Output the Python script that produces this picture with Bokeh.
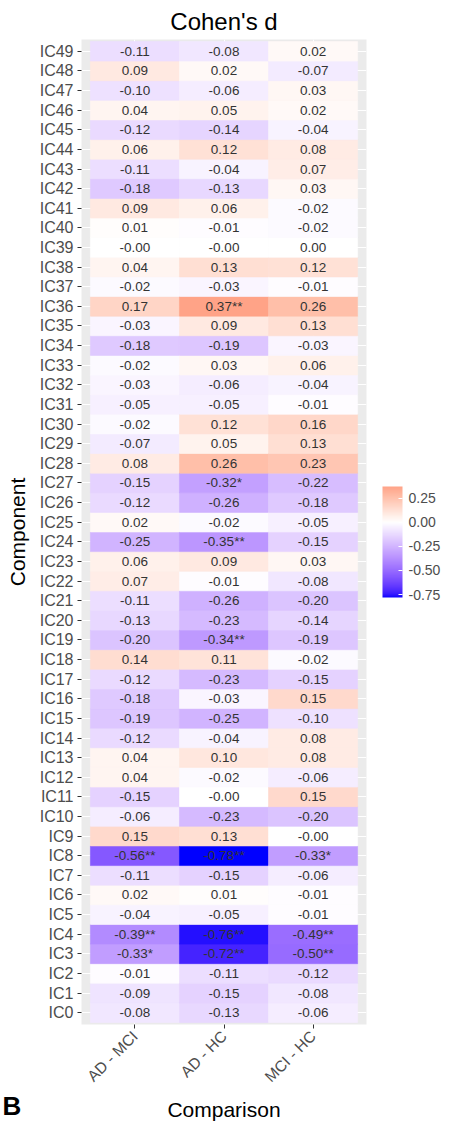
import math
import numpy as np
from bokeh.plotting import figure
from bokeh.models import (ColumnDataSource, LinearColorMapper, ColorBar, FixedTicker,
                          Range1d)
from bokeh.core.properties import value
from bokeh.embed import file_html
from bokeh.resources import INLINE

# ---------------- data (IC0 ... IC49) ----------------
comparisons = ["AD - MCI", "AD - HC", "MCI - HC"]
components = ["IC%d" % i for i in range(50)]

ad_mci = [-0.08, -0.09, -0.01, -0.33, -0.39, -0.04, 0.02, -0.11, -0.56, 0.15,
          -0.06, -0.15, 0.04, 0.04, -0.12, -0.19, -0.18, -0.12, 0.14, -0.20,
          -0.13, -0.11, 0.07, 0.06, -0.25, 0.02, -0.12, -0.15, 0.08, -0.07,
          -0.02, -0.05, -0.03, -0.02, -0.18, -0.03, 0.17, -0.02, 0.04, -0.0,
          0.01, 0.09, -0.18, -0.11, 0.06, -0.12, 0.04, -0.10, 0.09, -0.11]
ad_hc = [-0.13, -0.15, -0.11, -0.72, -0.76, -0.05, 0.01, -0.15, -0.78, 0.13,
         -0.23, -0.0, -0.02, 0.10, -0.04, -0.25, -0.03, -0.23, 0.11, -0.34,
         -0.23, -0.26, -0.01, 0.09, -0.35, -0.02, -0.26, -0.32, 0.26, 0.05,
         0.12, -0.05, -0.06, 0.03, -0.19, 0.09, 0.37, -0.03, 0.13, -0.0,
         -0.01, 0.06, -0.13, -0.04, 0.12, -0.14, 0.05, -0.06, 0.02, -0.08]
mci_hc = [-0.06, -0.08, -0.12, -0.50, -0.49, -0.01, -0.01, -0.06, -0.33, -0.0,
          -0.20, 0.15, -0.06, 0.08, 0.08, -0.10, 0.15, -0.15, -0.02, -0.19,
          -0.14, -0.20, -0.08, 0.03, -0.15, -0.05, -0.18, -0.22, 0.23, 0.13,
          0.16, -0.01, -0.04, 0.06, -0.03, 0.13, 0.26, -0.01, 0.12, 0.00,
          -0.02, -0.02, 0.03, 0.07, 0.08, -0.04, 0.02, 0.03, -0.07, 0.02]

# significance stars (component index -> stars)
stars_ad_mci = {3: "*", 4: "**", 8: "**"}
stars_ad_hc = {3: "**", 4: "**", 8: "**", 19: "**", 24: "**", 27: "*", 36: "**"}
stars_mci_hc = {3: "**", 4: "**", 8: "*"}

series = [ad_mci, ad_hc, mci_hc]
stars = [stars_ad_mci, stars_ad_hc, stars_mci_hc]

# ---------------- colour scale (ggplot gradient2 blue-white-red, Lab) ----------------
def hex_to_rgb(h):
    h = h.lstrip("#")
    return np.array([int(h[i:i + 2], 16) / 255.0 for i in (0, 2, 4)])

def rgb_to_lab(rgb):
    c = np.where(rgb > 0.04045, ((rgb + 0.055) / 1.055) ** 2.4, rgb / 12.92)
    M = np.array([[0.4124, 0.3576, 0.1805], [0.2126, 0.7152, 0.0722], [0.0193, 0.1192, 0.9505]])
    xyz = M @ c / np.array([0.95047, 1.0, 1.08883])
    f = np.where(xyz > 0.008856, np.cbrt(xyz), 7.787 * xyz + 16 / 116)
    return np.array([116 * f[1] - 16, 500 * (f[0] - f[1]), 200 * (f[1] - f[2])])

def lab_to_hex(lab):
    L, a, b = lab
    fy = (L + 16) / 116
    fx = fy + a / 500
    fz = fy - b / 200
    f = np.array([fx, fy, fz])
    xyz = np.where(f ** 3 > 0.008856, f ** 3, (f - 16 / 116) / 7.787) * np.array([0.95047, 1.0, 1.08883])
    Mi = np.array([[3.2406, -1.5372, -0.4986], [-0.9689, 1.8758, 0.0415], [0.0557, -0.2040, 1.0570]])
    c = Mi @ xyz
    c = np.where(c > 0.0031308, 1.055 * np.clip(c, 0, None) ** (1 / 2.4) - 0.055, 12.92 * c)
    c = np.clip(c, 0, 1)
    return "#%02x%02x%02x" % tuple(int(round(v * 255)) for v in c)

lab_low, lab_mid, lab_high = (rgb_to_lab(hex_to_rgb(h)) for h in ("#0000FF", "#FFFFFF", "#FF0000"))
all_vals = ad_mci + ad_hc + mci_hc
vmin, vmax = min(all_vals), max(all_vals)
M = max(abs(vmin), abs(vmax))
palette = []
for v in np.linspace(vmin, vmax, 256):
    t = 0.5 + v / (2 * M)
    if t < 0.5:
        lab = lab_low + (lab_mid - lab_low) * (t / 0.5)
    else:
        lab = lab_mid + (lab_high - lab_mid) * ((t - 0.5) / 0.5)
    palette.append(lab_to_hex(lab))
mapper = LinearColorMapper(palette=palette, low=vmin, high=vmax)

# ---------------- build table ----------------
xs, ys, vals, labels = [], [], [], []
for ci, (ser, st) in enumerate(zip(series, stars)):
    for ri, v in enumerate(ser):
        xs.append(ci + 1)
        ys.append(ri)
        vals.append(v)
        labels.append("%.2f%s" % (v, st.get(ri, "")))
src = ColumnDataSource(dict(x=xs, y=ys, v=vals, label=labels))

FONT = "Liberation Sans"

p = figure(width=453, height=1124, output_backend="svg", toolbar_location=None,
           x_range=Range1d(0.4, 3.6), y_range=Range1d(-0.6, 49.6),
           min_border_left=81, min_border_right=87, min_border_top=33, min_border_bottom=99,
           title="Cohen's d")
p.background_fill_color = "#EBEBEB"
p.border_fill_color = "white"
p.outline_line_color = None

p.title.text_font = FONT
p.title.text_font_size = "24px"
p.title.text_font_style = "normal"
p.title.align = "center"
p.title.text_color = "black"

p.rect(x="x", y="y", width=1, height=1, source=src,
       fill_color={"field": "v", "transform": mapper},
       line_color={"field": "v", "transform": mapper}, line_width=0.6)
p.text(x="x", y="y", text="label", source=src, text_align="center", text_baseline="middle",
       text_font=value(FONT), text_font_size="13.5px", text_color="#333333")

# grids
p.xgrid.ticker = FixedTicker(ticks=[1, 2, 3])
p.ygrid.ticker = FixedTicker(ticks=list(range(len(components))))
p.grid.grid_line_color = "white"
p.grid.grid_line_width = 1

# axes
p.xaxis.ticker = FixedTicker(ticks=[1, 2, 3])
p.xaxis.major_label_overrides = {i + 1: c for i, c in enumerate(comparisons)}
p.yaxis.ticker = FixedTicker(ticks=list(range(len(components))))
p.yaxis.major_label_overrides = {i: c for i, c in enumerate(components)}
for ax in (p.xaxis[0], p.yaxis[0]):
    ax.axis_line_color = None
    ax.major_tick_line_color = "#333333"
    ax.major_tick_in = 0
    ax.major_tick_out = 4
    ax.minor_tick_line_color = None
    ax.major_label_text_font = FONT
    ax.major_label_text_color = "#4D4D4D"
    ax.axis_label_text_font = FONT
    ax.axis_label_text_font_style = "normal"
    ax.axis_label_text_font_size = "21px"
    ax.axis_label_text_color = "black"
p.yaxis.major_label_text_font_size = "16px"
p.xaxis.major_label_text_font_size = "15.5px"
p.yaxis.major_label_standoff = 4
p.xaxis.major_label_standoff = 5
p.xaxis.major_label_orientation = math.pi / 4
p.xaxis.axis_label = "Comparison"
p.yaxis.axis_label = "Component"
p.xaxis.axis_label_standoff = 4
p.yaxis.axis_label_standoff = 8

cb = ColorBar(color_mapper=mapper, location=(301, 427), width=20, height=111,
              padding=0, ticker=FixedTicker(ticks=[-0.75, -0.5, -0.25, 0.0, 0.25]),
              major_label_text_font=FONT, major_label_text_font_size="14px",
              major_label_text_color="#4D4D4D", label_standoff=6,
              major_tick_line_color="white", major_tick_in=4, major_tick_out=0,
              bar_line_color=None, border_line_color=None, background_fill_alpha=0)
cb.major_label_overrides = {-0.75: "-0.75", -0.5: "-0.50", -0.25: "-0.25", 0.0: "0.00", 0.25: "0.25"}
p.add_layout(cb)

# panel tag "B" in the bottom-left corner (title of an invisible 1px colour bar)
tag = ColorBar(color_mapper=mapper, orientation="horizontal", location=(-79, -97),
               width=2, height=1, padding=0,
               scale_alpha=0, ticker=FixedTicker(ticks=[]), major_label_text_alpha=0,
               major_tick_line_color=None, minor_tick_line_color=None, bar_line_color=None,
               border_line_color=None, background_fill_alpha=0,
               title="B", title_standoff=0, title_text_font=FONT, title_text_font_size="26px",
               title_text_font_style="bold", title_text_color="black")
p.add_layout(tag)

open("out.html", "w").write(file_html(p, INLINE))
